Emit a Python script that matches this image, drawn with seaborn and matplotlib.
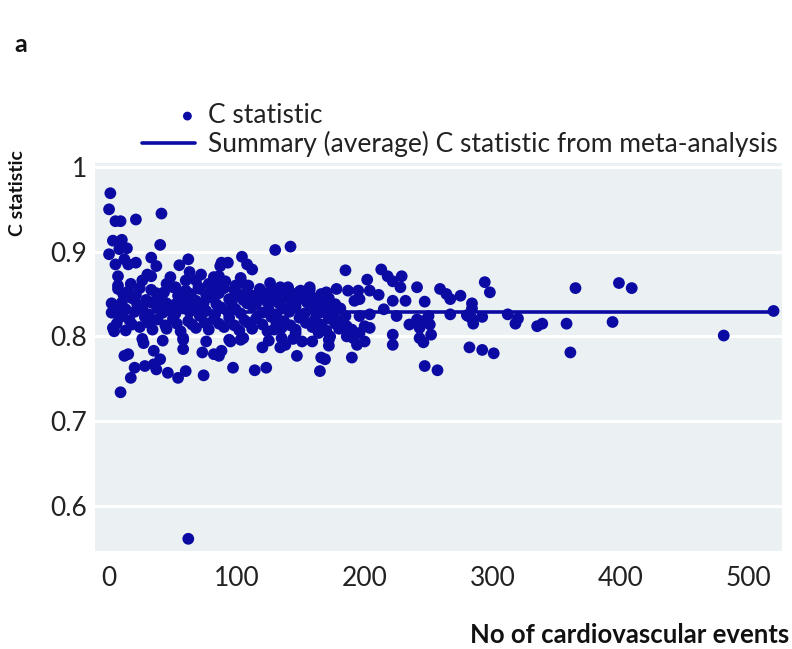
import numpy as np
import pandas as pd
import matplotlib
matplotlib.use("Agg")
import matplotlib.pyplot as plt
import seaborn as sns
from matplotlib.collections import PathCollection
from matplotlib.legend_handler import HandlerPathCollection

# ---------------- data ----------------
# upper-left cloud (few events, high C)
ev_a = [1, 0, 5, 9, 21, 41, 3, 10, 8, 14, 40, 0, 5, 12, 15, 21, 33, 37, 55, 62,
        7, 7, 17, 30, 33, 63, 72, 82, 87, 45, 52, 60, 70, 78, 86, 26, 48, 68]
c_a = [0.969, 0.950, 0.936, 0.936, 0.938, 0.945, 0.913, 0.914, 0.903, 0.904, 0.908,
       0.897, 0.885, 0.891, 0.885, 0.887, 0.893, 0.883, 0.884, 0.891, 0.871, 0.860,
       0.862, 0.873, 0.871, 0.876, 0.873, 0.870, 0.883, 0.862, 0.858, 0.866, 0.858,
       0.862, 0.859, 0.866, 0.870, 0.866]

# upper band 85-180 events
ev_b = [130, 142, 104, 88, 93, 108, 112, 86, 91, 103, 104, 88, 99, 109, 126, 134,
        140, 150, 157, 170, 100, 122, 131, 138, 148, 159]
c_b = [0.902, 0.906, 0.894, 0.887, 0.887, 0.885, 0.879, 0.871, 0.865, 0.869, 0.863,
       0.856, 0.860, 0.860, 0.863, 0.858, 0.858, 0.854, 0.858, 0.852, 0.848, 0.848,
       0.844, 0.846, 0.846, 0.846]

# dense core, 0-180 events
ev_c = [7, 15, 24, 33, 43, 50, 60, 71, 81, 90, 98, 108, 118, 128, 140, 149, 157, 178, 170,
        18, 29, 41, 58, 68, 80, 94, 105, 118, 129, 138, 149, 162, 172,
        5, 13, 26, 37, 47, 58, 68, 76, 88, 99, 112, 125, 136, 146, 159, 170, 181,
        8, 16, 28, 38, 50, 62, 71, 82, 94, 106, 115, 127, 137, 149, 161, 172,
        3, 13, 24, 34, 45, 56, 68, 78, 90, 102, 112, 124, 135, 146, 159, 170, 180,
        26, 42, 58, 76, 94, 105, 125, 144, 159, 172,
        11, 21, 37, 54, 64, 76, 86, 101, 113, 123, 133, 144, 153, 166,
        2, 10, 20, 31, 42, 52, 63, 73, 83, 93, 103, 120, 131, 141, 153, 165, 176,
        6, 18, 31, 44, 53, 65, 75, 86, 98, 109, 120, 131, 142, 154, 166, 177,
        2, 10, 22, 33, 45, 52, 63, 74, 84, 96, 108, 115, 124, 133, 143, 155, 165, 177]
c_c = [0.856, 0.853, 0.857, 0.855, 0.852, 0.858, 0.854, 0.856, 0.853, 0.857, 0.855,
       0.852, 0.856, 0.854, 0.857, 0.853, 0.855, 0.856, 0.851,
       0.845, 0.843, 0.846, 0.844, 0.842, 0.846, 0.844, 0.843, 0.845, 0.842, 0.846,
       0.844, 0.843, 0.845,
       0.835, 0.832, 0.834, 0.836, 0.831, 0.833, 0.835, 0.830, 0.834, 0.832, 0.836,
       0.831, 0.833, 0.835, 0.832, 0.834, 0.833,
       0.822, 0.819, 0.823, 0.820, 0.821, 0.818, 0.824, 0.820, 0.822, 0.819, 0.821,
       0.823, 0.818, 0.822, 0.820, 0.821,
       0.810, 0.807, 0.811, 0.808, 0.809, 0.806, 0.810, 0.808, 0.811, 0.807, 0.809,
       0.806, 0.810, 0.808, 0.811, 0.807, 0.809,
       0.797, 0.795, 0.798, 0.794, 0.796, 0.798, 0.795, 0.797, 0.794, 0.796,
       0.850, 0.849, 0.851, 0.848, 0.850, 0.849, 0.851, 0.850, 0.848, 0.851, 0.849,
       0.850, 0.848, 0.850,
       0.828, 0.827, 0.829, 0.826, 0.828, 0.827, 0.829, 0.828, 0.826, 0.829, 0.827,
       0.828, 0.826, 0.829, 0.827, 0.828, 0.826,
       0.815, 0.814, 0.816, 0.813, 0.815, 0.814, 0.816, 0.815, 0.813, 0.816, 0.814,
       0.815, 0.813, 0.816, 0.814, 0.815,
       0.839, 0.840, 0.838, 0.840, 0.839, 0.838, 0.840, 0.839, 0.838, 0.840, 0.839,
       0.838, 0.840, 0.839, 0.838, 0.840, 0.839, 0.838]

# lower tail 85-175 events
ev_d = [95, 103, 120, 88, 86, 134, 138, 147, 166, 169, 165, 97, 114, 123, 129, 135,
        146, 151, 164, 173, 172]
c_d = [0.794, 0.796, 0.787, 0.783, 0.777, 0.787, 0.790, 0.777, 0.775, 0.773, 0.759,
       0.763, 0.760, 0.763, 0.808, 0.798, 0.804, 0.794, 0.804, 0.800, 0.789]

# lower tail 0-85 events (incl. outlier)
ev_e = [4, 27, 35, 58, 58, 12, 15, 20, 28, 35, 40, 37, 46, 54, 60, 17, 74, 9, 73, 82, 62]
c_e = [0.806, 0.792, 0.783, 0.796, 0.785, 0.777, 0.779, 0.763, 0.765, 0.767, 0.773,
       0.761, 0.757, 0.751, 0.759, 0.751, 0.754, 0.734, 0.781, 0.779, 0.561]

# 180-285 events
ev_f = [185, 213, 218, 222, 229, 202, 187, 195, 196, 192, 204, 211, 228, 241, 259, 264,
        267, 275, 222, 232, 247, 215, 204, 196, 185, 182, 225, 241, 250, 246, 267, 281,
        186, 190, 200, 204, 196, 186, 191, 200, 194, 235, 243, 251, 252, 243, 246, 222,
        222, 190, 247, 257, 282]
c_f = [0.878, 0.879, 0.871, 0.865, 0.871, 0.867, 0.854, 0.854, 0.844, 0.842, 0.854,
       0.849, 0.858, 0.858, 0.856, 0.850, 0.844, 0.848, 0.842, 0.842, 0.841, 0.832,
       0.826, 0.824, 0.824, 0.818, 0.824, 0.820, 0.824, 0.818, 0.826, 0.824, 0.812,
       0.808, 0.812, 0.810, 0.804, 0.800, 0.798, 0.794, 0.790, 0.814, 0.810, 0.814,
       0.802, 0.798, 0.793, 0.802, 0.790, 0.775, 0.765, 0.760, 0.787]

# large studies
ev_g = [294, 298, 284, 284, 280, 284, 285, 292, 312, 318, 320, 335, 339, 358, 361,
        292, 301, 365, 394, 399, 409, 481, 520]
c_g = [0.864, 0.852, 0.839, 0.833, 0.825, 0.821, 0.815, 0.823, 0.826, 0.815, 0.821,
       0.812, 0.815, 0.815, 0.781, 0.784, 0.780, 0.857, 0.817, 0.863, 0.857, 0.801, 0.830]

summary_c = 0.829

x_ticks = [0, 100, 200, 300, 400, 500]
y_ticks = [0.6, 0.7, 0.8, 0.9, 1.0]
y_ticklabels = ["0.6", "0.7", "0.8", "0.9", "1"]

events = ev_a + ev_b + ev_c + ev_d + ev_e + ev_f + ev_g
cstat = c_a + c_b + c_c + c_d + c_e + c_f + c_g
df = pd.DataFrame({"events": events, "cstat": cstat})
summary_df = pd.DataFrame({"events": [min(events), max(events)],
                           "cstat": [summary_c, summary_c]})

# ---------------- style ----------------
sns.set_theme(style="darkgrid")
plt.rcParams["font.family"] = ["Lato", "DejaVu Sans"]
BLUE = "#0b0ba3"
BG = "#ebf0f2"

fig = plt.figure(figsize=(7.92, 6.49), dpi=100)
W, H = 792, 649
ax = fig.add_axes([95 / W, 1 - 551 / H, 687 / W, 388 / H])
ax.set_facecolor(BG)

sns.scatterplot(data=df, x="events", y="cstat", ax=ax, color=BLUE, s=72,
                edgecolor="none", linewidth=0, label="C statistic", zorder=3)
sns.lineplot(data=summary_df, x="events", y="cstat", ax=ax, color=BLUE, lw=2.6,
             label="Summary (average) C statistic from meta-analysis", zorder=4)

ax.set_xlim(-11, 526.6)
ax.set_ylim(0.5466, 1.0047)
ax.set_xticks(x_ticks)
ax.set_xticklabels([str(t) for t in x_ticks])
ax.set_yticks(y_ticks)
ax.set_yticklabels(y_ticklabels)
ax.grid(axis="x", visible=False)
ax.grid(axis="y", color="white", linewidth=2.2)
for s in ax.spines.values():
    s.set_visible(False)
ax.tick_params(axis="x", direction="in", length=4, width=1.5, color="white",
               labelsize=19, pad=11, labelcolor="#222222")
ax.tick_params(axis="y", length=0, labelsize=19, pad=6, labelcolor="#222222")

ax.set_xlabel("No of cardiovascular events", fontsize=18.5, fontweight="bold",
              color="#111111", loc="right")
ax.xaxis.set_label_coords(1.01, -0.185)
ax.set_ylabel("C statistic", fontsize=14, fontweight="bold", color="#111111", loc="top")
ax.yaxis.set_label_coords(-0.1, 1.034)


class RightDotHandler(HandlerPathCollection):
    """Legend dot placed near the right end of the handle box."""
    def get_xdata(self, legend, xdescent, ydescent, width, height, fontsize):
        return ([-xdescent, -xdescent + width],
                [-xdescent + width - 0.28 * fontsize])


handles, labels = ax.get_legend_handles_labels()
ax.legend(handles, labels, loc="upper left",
          bbox_to_anchor=(142 / W, 1 - 103 / H), bbox_transform=fig.transFigure,
          frameon=False, borderpad=0, borderaxespad=0, handlelength=2.0,
          handletextpad=0.5, labelspacing=0.12, fontsize=19, labelcolor="#222222",
          markerscale=0.75, handler_map={PathCollection: RightDotHandler()})

fig.text(14 / W, 1 - 45 / H, "a", fontsize=18, fontweight="bold", va="center",
         color="#111111")

fig.savefig("out.png", dpi=100, facecolor="white")
